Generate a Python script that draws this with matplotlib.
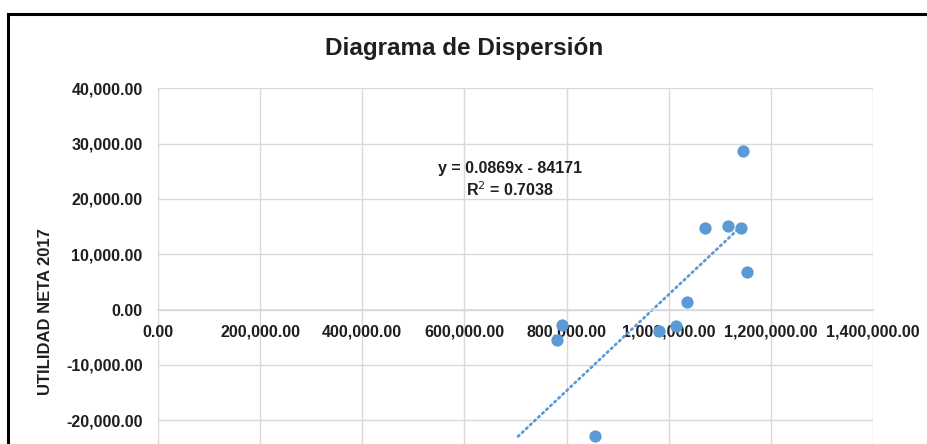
import matplotlib.pyplot as plt
from matplotlib.lines import Line2D
from matplotlib.ticker import FuncFormatter

plt.rcParams['font.family'] = ['Liberation Sans', 'DejaVu Sans']

#data
ventas = [782000, 791000, 855000, 980000, 1015000, 1035000, 1070500, 1115500, 1141600, 1146000, 1152700]
utilidad = [-5500, -2700, -22900, -3800, -2900, 1300, 14800, 15100, 14800, 28600, 6800]
slope = 0.0869
intercept = -84171
trend_start = 705000
trend_end = 1141600
eq_text = 'y = 0.0869x - 84171'
r2_text = 'R$^2$ = 0.7038'
x_ticks = [0, 200000, 400000, 600000, 800000, 1000000, 1200000, 1400000]
y_ticks = [-20000, -10000, 0, 10000, 20000, 30000, 40000]
y_grid = [-40000, -30000]

W, H = 927, 444
fig = plt.figure(figsize=(W/100, H/100), dpi=100)

#axes box in pixels (bottom part of the chart is cut off in the reference)
left, right, top, bottom = 158, 873, 88.3, 531
ax = fig.add_axes([left/W, 1 - bottom/H, (right-left)/W, (bottom-top)/H])
ax.set_xlim(0, 1400000)
ax.set_ylim(-40000, 40000)

blue = '#5B9BD5'
grid_c = '#D9D9D9'
text_c = '#1f1f1f'

ax.scatter(ventas, utilidad, s=78, color=blue, zorder=3, linewidths=0)

tx = [trend_start, trend_end]
ty = [slope*v + intercept for v in tx]
ax.plot(tx, ty, color=blue, lw=2.0, linestyle=(0, (0.6, 1.4)), dash_capstyle='round', zorder=2)

ax.set_xticks(x_ticks)
ax.set_yticks(y_ticks)
ax.grid(True, color=grid_c, lw=1)
for g in y_grid:
  ax.axhline(g, color=grid_c, lw=1, zorder=0)
ax.set_axisbelow(True)
fmt = FuncFormatter(lambda v, p: f'{v:,.2f}')
ax.xaxis.set_major_formatter(fmt)
ax.yaxis.set_major_formatter(fmt)
for s in ['top', 'right', 'left']:
  ax.spines[s].set_visible(False)
ax.spines['bottom'].set_position(('data', 0))
ax.spines['bottom'].set_color(grid_c)
ax.spines['bottom'].set_linewidth(1.2)
ax.tick_params(axis='x', length=0, pad=11, labelsize=11.5)
ax.tick_params(axis='y', length=0, pad=11, labelsize=11.5)
for lab in ax.get_xticklabels() + ax.get_yticklabels():
  lab.set_fontweight('bold')
  lab.set_color(text_c)

fig.text(510/W, 1 - 168/H, eq_text, fontsize=11.5, fontweight='bold', ha='center', va='center', color=text_c)
fig.text(510/W, 1 - 190/H, r2_text, fontsize=11.5, fontweight='bold', ha='center', va='center', color=text_c)

fig.text(464/W, 1 - 49/H, 'Diagrama de Dispersión', fontsize=17.5, fontweight='bold', ha='center', va='center', color=text_c)
fig.text(46/W, 1 - 312/H, 'UTILIDAD NETA 2017', fontsize=12, fontweight='bold', rotation=90,
         ha='center', va='center', color=text_c)

#chart border
fig.add_artist(Line2D([8/W, 8/W], [0, 1 - 14/H], color='black', lw=2.2))
fig.add_artist(Line2D([8/W, 1], [1 - 14/H, 1 - 14/H], color='black', lw=2.2))

fig.savefig('out.png', dpi=100)
